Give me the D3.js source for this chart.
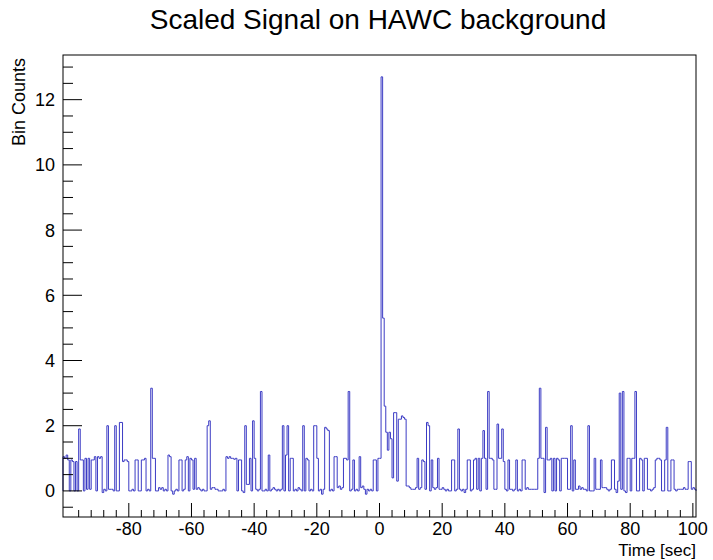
<!DOCTYPE html>
<html><head><meta charset="utf-8">
<script src="https://cdn.jsdelivr.net/npm/d3@7"></script>
<style>body{margin:0;background:#fff}svg{display:block}text{font-family:"Liberation Sans",Arial,Helvetica,sans-serif;fill:#000}</style>
</head><body><svg id="c" width="713" height="560"></svg>
<script>
// Histogram: 0.5 s bins from -101 s to 101 s
const binLow = -101;
const binWidth = 0.5;
const binCounts = [
1.05,1.0,1.1,0.95,0.0,0.95,0.9,0.0,0.9,0.0,
1.9,0.95,0.95,0.0,1.0,0.05,1.0,0.05,0.95,0.95,
1.05,0.0,1.05,1.0,1.05,-0.05,0.05,0.0,2.0,0.05,
0.05,0.05,0.0,2.0,0.0,0.0,2.1,2.1,0.9,0.95,
0.95,0.9,0.0,0.0,0.05,0.0,0.95,0.95,0.0,0.0,
0.95,0.95,1.0,0.0,0.05,0.0,3.15,1.0,1.0,0.0,
0.0,0.1,0.05,0.1,0.0,0.05,0.0,1.1,1.05,0.0,
-0.1,0.0,0.05,0.0,0.95,0.95,0.0,0.05,0.95,1.05,
0.0,1.0,0.95,0.05,1.0,0.05,0.1,0.05,0.0,0.05,
0.0,0.0,2.0,2.15,0.05,0.1,0.1,0.05,0.05,0.0,
0.0,0.0,0.05,0.0,1.05,1.0,1.05,1.0,1.0,0.97,
1.0,0.0,0.95,0.95,0.0,-0.05,2.0,0.2,0.2,1.0,
0.0,2.15,1.0,0.05,0.0,0.05,3.05,0.0,0.0,0.05,
0.0,1.1,0.0,0.05,0.1,0.05,0.0,0.05,0.0,0.05,
2.0,0.0,1.1,2.0,0.0,1.0,1.0,0.0,0.05,0.0,
0.1,0.05,0.0,2.0,0.0,1.0,0.95,0.0,0.05,0.0,
2.0,2.0,1.0,0.0,0.05,-0.1,0.05,1.95,1.9,1.85,
0.0,0.05,0.0,1.05,1.05,0.1,0.15,0.05,0.1,1.0,
1.0,0.95,3.05,0.0,0.05,0.95,0.0,0.05,0.0,1.05,
0.1,0.15,0.05,-0.1,0.05,0.0,0.05,0.0,0.95,0.95,
0.0,1.0,1.0,12.7,5.3,2.6,1.8,1.25,1.8,1.6,
0.4,2.4,2.4,0.3,2.2,2.2,2.3,2.25,2.2,0.15,
0.15,0.1,0.05,0.05,0.05,0.1,1.0,0.05,0.1,0.95,
0.9,0.05,2.1,2.0,0.0,0.95,0.1,0.05,0.1,1.0,
0.05,0.05,0.1,0.05,0.0,0.05,0.0,0.0,0.95,0.95,
0.0,0.05,1.9,0.05,0.0,0.05,-0.05,0.05,0.95,0.95,
0.0,0.05,0.95,1.0,0.05,1.0,0.0,1.0,1.85,1.0,
0.05,3.05,1.0,1.0,0.95,0.05,0.05,2.05,1.0,1.0,
1.9,0.9,0.05,0.0,0.95,0.05,0.05,0.0,0.05,0.95,
0.0,0.05,0.0,0.95,0.95,0.05,0.1,0.05,0.05,0.05,
0.05,0.05,0.05,1.0,3.15,1.0,1.0,-0.05,1.95,0.95,
0.95,1.0,0.0,1.0,0.0,1.0,0.95,0.0,1.0,1.0,
1.0,1.0,0.05,0.05,2.0,0.0,0.95,0.05,0.05,0.15,
0.05,0.1,0.05,0.05,0.0,2.0,0.0,0.0,0.0,1.0,
0.05,0.05,0.05,0.95,0.1,0.1,0.1,0.05,0.0,0.05,
0.95,0.95,0.05,-0.05,0.3,3.0,0.05,3.05,0.0,-0.05,
1.0,1.0,0.0,1.0,1.0,3.05,0.0,0.0,1.0,0.95,
0.0,1.0,1.0,0.05,0.05,0.0,0.05,0.1,0.95,1.0,
1.0,0.95,0.0,0.0,0.95,1.95,0.0,0.0,0.95,0.95,
0.05,0.0,0.05,0.05,0.05,0.05,0.1,0.05,0.05,0.9,
0.9,0.05,0.1,0.05
];
const xTickLabels = ["-80","-60","-40","-20","0","20","40","60","80","100"];
const xTickValues = [-80,-60,-40,-20,0,20,40,60,80,100];
const yTickLabels = ["0","2","4","6","8","10","12"];
const yTickValues = [0,2,4,6,8,10,12];
const xDomain = [-101, 101];
const yDomain = [-0.8, 13.37];
const title = "Scaled Signal on HAWC background";
const xTitle = "Time [sec]";
const yTitle = "Bin Counts";

const svg = d3.select("#c");
const L = 63, R = 696, T = 55, B = 517;
const x = d3.scaleLinear().domain(xDomain).range([L, R]);
const y = d3.scaleLinear().domain(yDomain).range([B, T]);

// histogram outline
const pts = binCounts.map((v, i) => [binLow + i * binWidth, v]);
pts.push([binLow + binCounts.length * binWidth, binCounts[binCounts.length - 1]]);
const line = d3.line().x(d => x(d[0])).y(d => y(d[1])).curve(d3.curveStepAfter);
const first = [[binLow, 0]];
const last = [[binLow + binCounts.length * binWidth, 0]];
svg.append("path")
  .attr("d", line(first.concat(pts).concat(last)))
  .attr("fill", "none")
  .attr("stroke", "#3b3bc4")
  .attr("stroke-width", 1);

// frame
svg.append("rect").attr("x", L).attr("y", T).attr("width", R - L).attr("height", B - T)
  .attr("fill", "none").attr("stroke", "#000").attr("stroke-width", 1);

// x ticks
const xMinor = d3.range(-96, 100.1, 4).filter(v => xTickValues.indexOf(v) < 0);
const g = svg.append("g").attr("stroke", "#000").attr("stroke-width", 1);
xTickValues.forEach(v => g.append("line").attr("x1", x(v)).attr("x2", x(v)).attr("y1", B).attr("y2", B - 14));
xMinor.forEach(v => g.append("line").attr("x1", x(v)).attr("x2", x(v)).attr("y1", B).attr("y2", B - 7));
// y ticks
const yMinor = d3.range(-0.5, 13.01, 0.5).filter(v => yTickValues.indexOf(v) < 0);
yTickValues.forEach(v => g.append("line").attr("x1", L).attr("x2", L + 19).attr("y1", y(v)).attr("y2", y(v)));
yMinor.forEach(v => g.append("line").attr("x1", L).attr("x2", L + 10).attr("y1", y(v)).attr("y2", y(v)));

// labels
xTickValues.forEach((v, i) => svg.append("text").attr("x", x(v)).attr("y", 535)
  .attr("text-anchor", "middle").attr("font-size", 18).text(xTickLabels[i]));
yTickValues.forEach((v, i) => svg.append("text").attr("x", 55).attr("y", y(v) + 6.5)
  .attr("text-anchor", "end").attr("font-size", 18).text(yTickLabels[i]));

svg.append("text").attr("x", R).attr("y", 556).attr("text-anchor", "end")
  .attr("font-size", 17).text(xTitle);
svg.append("text").attr("transform", "translate(25,58) rotate(-90)").attr("text-anchor", "end")
  .attr("font-size", 18).text(yTitle);
svg.append("text").attr("x", 378).attr("y", 29).attr("text-anchor", "middle")
  .attr("font-size", 28).text(title);
</script>
</body></html>
